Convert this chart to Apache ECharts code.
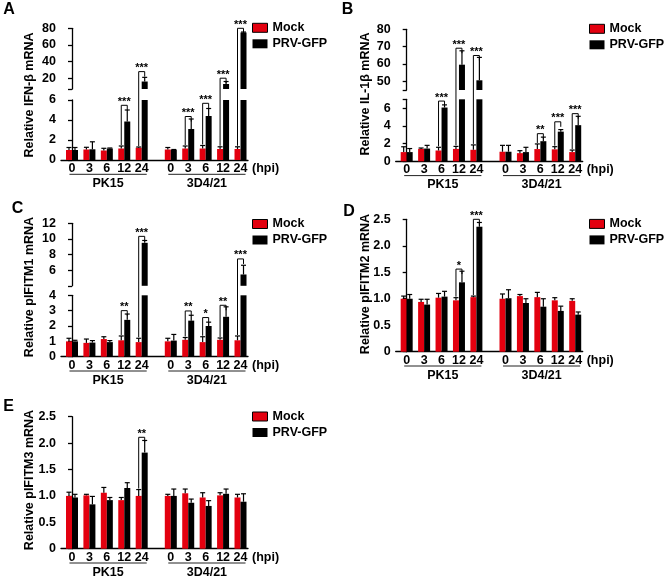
<!DOCTYPE html>
<html><head><meta charset="utf-8">
<script src="https://cdn.jsdelivr.net/npm/echarts@6/dist/echarts.min.js"></script>
<style>html,body{margin:0;padding:0;background:#fff}#c{width:664px;height:579px}</style>
</head><body><div id="c"></div>
<script>
// ---------- DATA ----------
const hpi = ['0', '3', '6', '12', '24'];
const cells = ['PK15', '3D4/21'];
const seriesNames = ['Mock', 'PRV-GFP'];

// A: IFN-beta
const ifnbMockPK15 = [1.0, 1.05, 0.95, 1.15, 1.23];
const ifnbMockPK15Sd = [0.25, 0.22, 0.22, 0.25, 0.07];
const ifnbPrvPK15 = [1.0, 1.07, 1.15, 3.85, 16];
const ifnbPrvPK15Sd = [0.25, 0.75, 0.05, 1.15, 5];
const ifnbMock3D4 = [1.05, 1.15, 1.15, 1.1, 1.1];
const ifnbMock3D4Sd = [0.2, 0.25, 0.3, 0.22, 0.22];
const ifnbPrv3D4 = [1.02, 3.1, 4.4, 13, 75];
const ifnbPrv3D4Sd = [0.03, 1.0, 0.75, 3, 0.5];
// [cell, hpi index, bracket level, stars]
const ifnbSig = [[0, 3, 5.47, '***'], [0, 4, 27.9, '***'], [1, 1, 4.35, '***'], [1, 2, 5.67, '***'], [1, 3, 20, '***'], [1, 4, 80, '***']];
const ifnbLowerTicks = [0, 2, 4, 6], ifnbLowerLabels = [0, 2, 4, 6];
const ifnbUpperTicks = [7, 20, 40, 60, 80], ifnbUpperLabels = [20, 40, 60, 80];

// B: IL-1beta
const il1bMockPK15 = [1.04, 1.4, 1.22, 1.4, 1.3];
const il1bMockPK15Sd = [0.6, 0.1, 0.36, 0.28, 0.55];
const il1bPrvPK15 = [1.04, 1.44, 6.07, 59.6, 50.6];
const il1bPrvPK15Sd = [0.4, 0.36, 0.3, 8, 13.2];
const il1bMock3D4 = [1.08, 0.92, 1.38, 1.35, 1.04];
const il1bMock3D4Sd = [0.72, 0.28, 0.58, 0.3, 0.23];
const il1bPrv3D4 = [1.08, 1.04, 2.27, 3.35, 4.08];
const il1bPrv3D4Sd = [0.72, 0.54, 0.46, 0.23, 1.0];
const il1bSig = [[0, 2, 6.8, '***'], [0, 3, 69.1, '***'], [0, 4, 64.9, '***'], [1, 2, 3.12, '**'], [1, 3, 4.46, '***'], [1, 4, 5.38, '***']];
const il1bLowerTicks = [0, 2, 4, 6, 7], il1bLowerLabels = [0, 2, 4, 6];
const il1bUpperTicks = [45, 50, 60, 70, 80], il1bUpperLabels = [50, 60, 70, 80];

// C: pIFITM1
const ifitm1MockPK15 = [1.0, 0.9, 1.15, 1.07, 0.95];
const ifitm1MockPK15Sd = [0.2, 0.25, 0.15, 0.28, 0.25];
const ifitm1PrvPK15 = [1.0, 0.92, 0.95, 2.4, 9.5];
const ifitm1PrvPK15Sd = [0.07, 0.13, 0.1, 0.38, 0.3];
const ifitm1Mock3D4 = [1.0, 1.1, 0.95, 1.1, 1.07];
const ifitm1Mock3D4Sd = [0.2, 0.15, 0.35, 0.12, 0.28];
const ifitm1Prv3D4 = [1.05, 2.35, 2.0, 2.6, 5.45];
const ifitm1Prv3D4Sd = [0.4, 0.35, 0.25, 0.65, 1.18];
const ifitm1Sig = [[0, 3, 3.0, '**'], [0, 4, 10.33, '***'], [1, 1, 2.98, '**'], [1, 2, 2.55, '*'], [1, 3, 3.35, '**'], [1, 4, 7.44, '***']];
const ifitm1LowerTicks = [0, 1, 2, 3, 4], ifitm1LowerLabels = [0, 1, 2, 3, 4];
const ifitm1UpperTicks = [4, 6, 8, 10, 12], ifitm1UpperLabels = [6, 8, 10, 12];

// D: pIFITM2
const ifitm2MockPK15 = [1.0, 0.94, 1.02, 0.97, 1.03];
const ifitm2MockPK15Sd = [0.05, 0.05, 0.08, 0.05, 0.02];
const ifitm2PrvPK15 = [1.0, 0.89, 1.04, 1.31, 2.36];
const ifitm2PrvPK15Sd = [0.08, 0.1, 0.1, 0.21, 0.08];
const ifitm2Mock3D4 = [1.0, 1.05, 1.03, 0.97, 0.96];
const ifitm2Mock3D4Sd = [0.09, 0.03, 0.09, 0.05, 0.04];
const ifitm2Prv3D4 = [1.01, 0.92, 0.85, 0.77, 0.7];
const ifitm2Prv3D4Sd = [0.16, 0.08, 0.15, 0.09, 0.05];
const ifitm2Sig = [[0, 3, 1.56, '*'], [0, 4, 2.5, '***']];
const ifitm2Ticks = [0, 0.5, 1, 1.5, 2, 2.5], ifitm2Labels = [0, 0.5, 1, 1.5, 2, 2.5];

// E: pIFITM3
const ifitm3MockPK15 = [1.0, 1.01, 1.06, 0.92, 1.0];
const ifitm3MockPK15Sd = [0.07, 0.02, 0.1, 0.05, 0.12];
const ifitm3PrvPK15 = [0.97, 0.84, 0.92, 1.15, 1.82];
const ifitm3PrvPK15Sd = [0.06, 0.15, 0.05, 0.1, 0.23];
const ifitm3Mock3D4 = [1.0, 1.05, 0.97, 1.01, 0.97];
const ifitm3Mock3D4Sd = [0.03, 0.08, 0.09, 0.05, 0.06];
const ifitm3Prv3D4 = [1.0, 0.87, 0.81, 1.04, 0.89];
const ifitm3Prv3D4Sd = [0.13, 0.07, 0.1, 0.09, 0.15];
const ifitm3Sig = [[0, 4, 2.11, '**']];
const ifitm3Ticks = [0, 0.5, 1, 1.5, 2, 2.5], ifitm3Labels = [0, 0.5, 1, 1.5, 2, 2.5];

// ---------- STYLE / LAYOUT ----------
const FONT = '"Liberation Sans", Arial, Helvetica, sans-serif';
const RED = '#e3000f', BLACK = '#000000';
const BAR_W = 6;
const GROUP_OFFSET = 5.67;        // gap between the two cell-line groups (in category units)
const X_MIN = -0.63, X_MAX = 10.1, GRID_W = 187;
const pos = (g, j) => g * GROUP_OFFSET + j;
const xPositions = [];
cells.forEach((c, g) => hpi.forEach((h, j) => xPositions.push(pos(g, j))));
const xLabelFmt = v => {
  const k = xPositions.findIndex(p => Math.abs(p - v) < 1e-6);
  return k < 0 ? '' : hpi[k % hpi.length];
};
const decFmt = v => (v === 0 ? '0' : v.toFixed(1));
const intFmt = v => String(v);

const panels = [
  { letter: 'A', yName: 'Relative IFN-β mRNA',
    mock: [ifnbMockPK15, ifnbMock3D4], mockSd: [ifnbMockPK15Sd, ifnbMock3D4Sd],
    prv: [ifnbPrvPK15, ifnbPrv3D4], prvSd: [ifnbPrvPK15Sd, ifnbPrv3D4Sd], sig: ifnbSig,
    lower: { min: 0, max: 6, ticks: ifnbLowerTicks, labels: ifnbLowerLabels, fmt: intFmt },
    upper: { min: 7, max: 80, ticks: ifnbUpperTicks, labels: ifnbUpperLabels, fmt: intFmt },
    L: { left: 61, lowerTop: 100, lowerH: 60, upperTop: 28.3, upperH: 60.7, letter: [3.3, 9.5], yName: [30, 95], legend: [252, 21.3] } },
  { letter: 'B', yName: 'Relative IL-1β mRNA',
    mock: [il1bMockPK15, il1bMock3D4], mockSd: [il1bMockPK15Sd, il1bMock3D4Sd],
    prv: [il1bPrvPK15, il1bPrv3D4], prvSd: [il1bPrvPK15Sd, il1bPrv3D4Sd], sig: il1bSig,
    lower: { min: 0, max: 7, ticks: il1bLowerTicks, labels: il1bLowerLabels, fmt: intFmt },
    upper: { min: 45, max: 80, ticks: il1bUpperTicks, labels: il1bUpperLabels, fmt: intFmt },
    L: { left: 395.7, lowerTop: 99.3, lowerH: 62, upperTop: 29.3, upperH: 60.7, letter: [341.7, 9.8], yName: [365.8, 94], legend: [589, 22.3] } },
  { letter: 'C', yName: 'Relative pIFITM1 mRNA',
    mock: [ifitm1MockPK15, ifitm1Mock3D4], mockSd: [ifitm1MockPK15Sd, ifitm1Mock3D4Sd],
    prv: [ifitm1PrvPK15, ifitm1Prv3D4], prvSd: [ifitm1PrvPK15Sd, ifitm1Prv3D4Sd], sig: ifitm1Sig,
    lower: { min: 0, max: 4, ticks: ifitm1LowerTicks, labels: ifitm1LowerLabels, fmt: intFmt },
    upper: { min: 4, max: 12, ticks: ifitm1UpperTicks, labels: ifitm1UpperLabels, fmt: intFmt },
    L: { left: 61, lowerTop: 295.3, lowerH: 61.4, upperTop: 223.3, upperH: 62.5, letter: [11.7, 208.5], yName: [30, 287], legend: [252, 217.5] } },
  { letter: 'D', yName: 'Relative pIFITM2 mRNA',
    mock: [ifitm2MockPK15, ifitm2Mock3D4], mockSd: [ifitm2MockPK15Sd, ifitm2Mock3D4Sd],
    prv: [ifitm2PrvPK15, ifitm2Prv3D4], prvSd: [ifitm2PrvPK15Sd, ifitm2Prv3D4Sd], sig: ifitm2Sig,
    lower: { min: 0, max: 2.5, ticks: ifitm2Ticks, labels: ifitm2Labels, fmt: decFmt },
    L: { left: 395.7, lowerTop: 219.3, lowerH: 132.4, letter: [343.3, 212], yName: [365.8, 284], legend: [589, 217.4] } },
  { letter: 'E', yName: 'Relative pIFITM3 mRNA',
    mock: [ifitm3MockPK15, ifitm3Mock3D4], mockSd: [ifitm3MockPK15Sd, ifitm3Mock3D4Sd],
    prv: [ifitm3PrvPK15, ifitm3Prv3D4], prvSd: [ifitm3PrvPK15Sd, ifitm3Prv3D4Sd], sig: ifitm3Sig,
    lower: { min: 0, max: 2.5, ticks: ifitm3Ticks, labels: ifitm3Labels, fmt: decFmt },
    L: { left: 61, lowerTop: 416.7, lowerH: 132, letter: [3.3, 406.9], yName: [30, 480], legend: [252, 410] } }
];

// ---------- BUILD OPTION ----------
const grids = [], xAxes = [], yAxes = [], series = [], legends = [];

function errRender(params, api) {
  const x = api.value(0), v = api.value(1), sd = api.value(2), side = api.value(3);
  const p0 = api.coord([x, v]), p1 = api.coord([x, v + sd]);
  const cx = p0[0] + side * BAR_W / 2;
  const st = { stroke: '#000', lineWidth: 1.2 };
  return { type: 'group', children: [
    { type: 'line', shape: { x1: cx, y1: p0[1], x2: cx, y2: p1[1] }, style: st },
    { type: 'line', shape: { x1: cx - 2.5, y1: p1[1], x2: cx + 2.5, y2: p1[1] }, style: st }
  ] };
}
function groupRender(params, api) {
  const a = api.coord([api.value(0), api.value(2)]), b = api.coord([api.value(1), api.value(2)]);
  const g = api.value(3);
  const x1 = a[0] - 2.5, x2 = b[0] + 5, y0 = a[1];
  return { type: 'group', children: [
    { type: 'line', shape: { x1: x1, y1: y0 + 14.3, x2: x2, y2: y0 + 14.3 }, style: { stroke: '#222', lineWidth: 1 } },
    { type: 'text', style: { text: cells[g], x: (x1 + x2) / 2, y: y0 + 23.5, textAlign: 'center', textVerticalAlign: 'middle',
        align: 'center', verticalAlign: 'middle', font: 'bold 12.5px ' + FONT, fill: '#000' } }
  ] };
}

function yAxisFor(gi, seg) {
  return {
    type: 'value', gridIndex: gi, min: seg.min, max: seg.max,
    axisLine: { show: true, lineStyle: { color: '#000', width: 1.3 } },
    axisTick: { show: true, length: 4, lineStyle: { color: '#000', width: 1.3 }, customValues: seg.ticks },
    axisLabel: { show: true, customValues: seg.labels, formatter: seg.fmt, margin: 5, color: '#000',
      fontSize: 12.5, fontWeight: 'bold', fontFamily: FONT, showMinLabel: true, showMaxLabel: true },
    splitLine: { show: false }
  };
}

panels.forEach(p => {
  const L = p.L;
  p.gi = {};
  // lower grid
  const gl = grids.length; p.gi.lower = gl;
  grids.push({ left: L.left, top: L.lowerTop, width: GRID_W, height: L.lowerH, containLabel: false, outerBoundsMode: 'none' });
  xAxes.push({
    type: 'value', gridIndex: gl, min: X_MIN, max: X_MAX,
    axisLine: { show: true, lineStyle: { color: '#000', width: 1.3 } },
    axisTick: { show: false }, splitLine: { show: false },
    axisLabel: { customValues: xPositions, formatter: xLabelFmt, margin: 2, color: '#000', fontSize: 12.5,
      fontWeight: 'bold', fontFamily: FONT, showMinLabel: true, showMaxLabel: true },
    name: '(hpi)', nameLocation: 'end', nameGap: 4,
    nameTextStyle: { color: '#000', fontSize: 12.5, fontWeight: 'bold', fontFamily: FONT, verticalAlign: 'top', padding: [2, 0, 0, 0] }
  });
  yAxes.push(yAxisFor(gl, p.lower));
  const segs = [{ gi: gl, seg: p.lower, isUpper: false }];
  if (p.upper) {
    const gu = grids.length; p.gi.upper = gu;
    grids.push({ left: L.left, top: L.upperTop, width: GRID_W, height: L.upperH, containLabel: false, outerBoundsMode: 'none' });
    xAxes.push({ type: 'value', gridIndex: gu, min: X_MIN, max: X_MAX, show: false });
    yAxes.push(yAxisFor(gu, p.upper));
    segs.push({ gi: gu, seg: p.upper, isUpper: true });
  }
  segs.forEach(s => {
    const ai = s.gi;
    [[p.mock, p.mockSd, RED, -1, 0], [p.prv, p.prvSd, BLACK, 1, 1]].forEach(([vals, sds, color, side, si]) => {
      const barData = [], errData = [];
      cells.forEach((c, g) => hpi.forEach((h, j) => {
        const v = vals[g][j], sd = sds[g][j];
        if (!s.isUpper || v > s.seg.min) barData.push([pos(g, j), v]);
        const inUpper = !!(p.upper && v > p.lower.max);
        if (inUpper === s.isUpper) errData.push([pos(g, j), v, sd, side]);
      }));
      series.push({ type: 'bar', name: seriesNames[si], xAxisIndex: ai, yAxisIndex: ai, data: barData,
        barWidth: BAR_W, barGap: '0%', clip: true, itemStyle: { color: color }, z: 2, silent: true });
      series.push({ type: 'custom', name: 'err-' + si, xAxisIndex: ai, yAxisIndex: ai, data: errData,
        renderItem: errRender, encode: { x: 0, y: 1 }, z: 3, silent: true });
    });
  });
  // group labels under the x axis
  series.push({ type: 'custom', name: 'groups', xAxisIndex: gl, yAxisIndex: gl,
    data: cells.map((c, g) => [pos(g, 0), pos(g, hpi.length - 1), p.lower.min, g]),
    renderItem: groupRender, encode: { x: [0, 1], y: 2 }, silent: true, z: 3 });
  legends.push({
    left: L.legend[0], top: L.legend[1], orient: 'vertical', itemWidth: 15, itemHeight: 9, itemGap: 3,
    selectedMode: false, padding: 0,
    textStyle: { color: '#000', fontSize: 12.5, fontWeight: 'bold', fontFamily: FONT },
    data: [{ name: 'Mock', icon: 'rect', itemStyle: { color: RED, borderColor: '#000', borderWidth: 1 } },
           { name: 'PRV-GFP', icon: 'rect', itemStyle: { color: BLACK } }]
  });
});

const chart = echarts.init(document.getElementById('c'), null, { renderer: 'canvas' });
chart.setOption({
  animation: false, backgroundColor: '#fff',
  textStyle: { fontFamily: FONT },
  grid: grids, xAxis: xAxes, yAxis: yAxes, legend: legends, series: series
});

// ---------- annotations (panel letters, y titles, significance brackets) ----------
const gfx = [];
panels.forEach(p => {
  const L = p.L;
  gfx.push({ type: 'text', x: L.letter[0], y: L.letter[1], z: 100,
    style: { text: p.letter, font: 'bold 16px ' + FONT, fill: '#000', textAlign: 'left', textVerticalAlign: 'middle', align: 'left', verticalAlign: 'middle' } });
  gfx.push({ type: 'text', x: L.yName[0], y: L.yName[1], rotation: Math.PI / 2, z: 100,
    style: { text: p.yName, font: 'bold 12.5px ' + FONT, fill: '#000', textAlign: 'center', textVerticalAlign: 'middle', align: 'center', verticalAlign: 'middle' } });
  p.sig.forEach(([g, j, level, stars]) => {
    const x = pos(g, j);
    const useUpper = p.upper && level > p.lower.max;
    const Lp = chart.convertToPixel({ gridIndex: useUpper ? p.gi.upper : p.gi.lower }, [x, level]);
    const mockTop = p.mock[g][j] + p.mockSd[g][j];
    const M = chart.convertToPixel({ gridIndex: p.gi.lower }, [x, mockTop]);
    const lx = Lp[0] - BAR_W / 2, rx = Lp[0] + BAR_W / 2, ly = Lp[1];
    gfx.push({ type: 'polyline', z: 100, shape: { points: [[lx, M[1] - 1], [lx, ly], [rx, ly], [rx, ly + 5]] },
      style: { stroke: '#000', lineWidth: 1, fill: null } });
    gfx.push({ type: 'text', x: (lx + rx) / 2, y: ly - 3.5, z: 100,
      style: { text: stars, font: 'bold 11px ' + FONT, fill: '#000', textAlign: 'center', textVerticalAlign: 'middle', align: 'center', verticalAlign: 'middle' } });
  });
});
chart.setOption({ graphic: gfx });
</script>
</body></html>
